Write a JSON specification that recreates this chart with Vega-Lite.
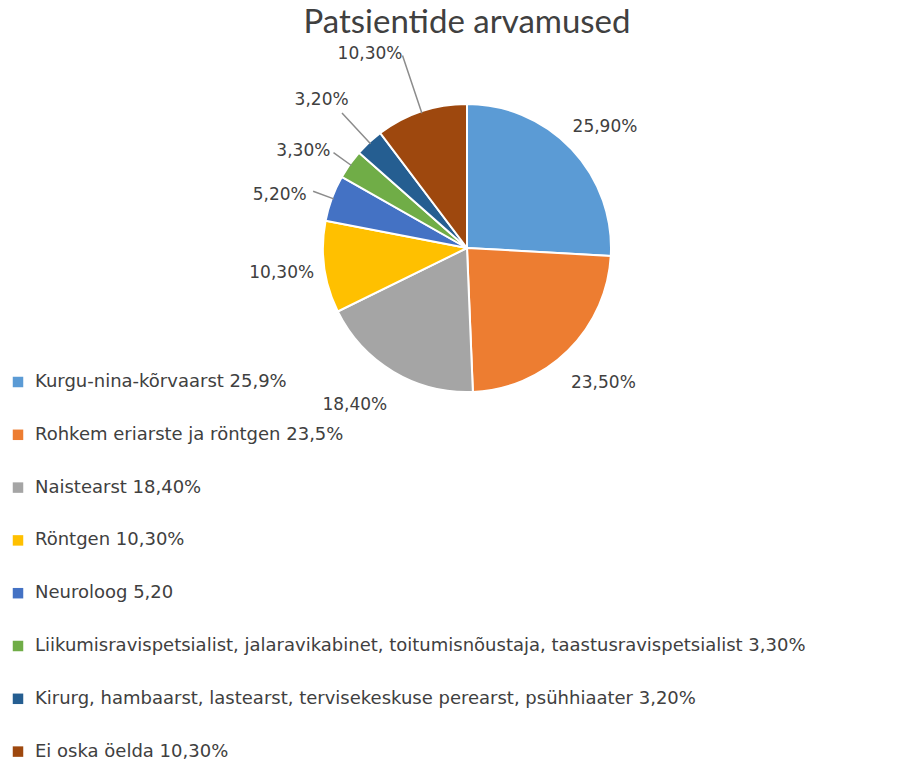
{
  "$schema": "https://vega.github.io/schema/vega-lite/v6.json",
  "width": 904,
  "height": 496,
  "autosize": {"type": "none"},
  "padding": {"left": 15, "top": 0, "right": 0, "bottom": 268},
  "background": "white",
  "title": {"text": "Patsientide arvamused", "font": "Lato", "fontSize": 33, "fontWeight": "normal", "color": "#404040", "anchor": "middle", "frame": "group", "offset": -66, "baseline": "alphabetic"},
  "data": {"values": [
    {"nr": 1, "kategooria": "Kurgu-nina-kõrvaarst 25,9%", "osakaal": 25.9, "silt": "25,90%"},
    {"nr": 2, "kategooria": "Rohkem eriarste ja röntgen 23,5%", "osakaal": 23.5, "silt": "23,50%"},
    {"nr": 3, "kategooria": "Naistearst 18,40%", "osakaal": 18.4, "silt": "18,40%"},
    {"nr": 4, "kategooria": "Röntgen 10,30%", "osakaal": 10.3, "silt": "10,30%"},
    {"nr": 5, "kategooria": "Neuroloog 5,20", "osakaal": 5.2, "silt": "5,20%"},
    {"nr": 6, "kategooria": "Liikumisravispetsialist, jalaravikabinet, toitumisnõustaja, taastusravispetsialist 3,30%", "osakaal": 3.3, "silt": "3,30%"},
    {"nr": 7, "kategooria": "Kirurg, hambaarst, lastearst, tervisekeskuse perearst, psühhiaater 3,20%", "osakaal": 3.2, "silt": "3,20%"},
    {"nr": 8, "kategooria": "Ei oska öelda 10,30%", "osakaal": 10.3, "silt": "10,30%"}
  ]},
  "encoding": {
    "theta": {"field": "osakaal", "type": "quantitative", "stack": true},
    "order": {"field": "nr", "type": "quantitative"}
  },
  "layer": [
    {
      "mark": {"type": "arc", "outerRadius": 144, "stroke": "white", "strokeWidth": 2},
      "encoding": {
        "color": {
          "field": "kategooria", "type": "nominal",
          "scale": {
            "domain": ["Kurgu-nina-kõrvaarst 25,9%", "Rohkem eriarste ja röntgen 23,5%", "Naistearst 18,40%", "Röntgen 10,30%", "Neuroloog 5,20", "Liikumisravispetsialist, jalaravikabinet, toitumisnõustaja, taastusravispetsialist 3,30%", "Kirurg, hambaarst, lastearst, tervisekeskuse perearst, psühhiaater 3,20%", "Ei oska öelda 10,30%"],
            "range": ["#5B9BD5", "#ED7D31", "#A5A5A5", "#FFC000", "#4472C4", "#70AD47", "#255E91", "#9E480E"]
          },
          "legend": {
            "orient": "none", "legendX": -6, "legendY": 373, "title": null,
            "labelFont": "DejaVu Sans", "labelFontSize": 18, "labelColor": "#404040",
            "symbolType": "square", "symbolSize": 110, "symbolStrokeWidth": 0,
            "rowPadding": 34.8, "labelLimit": 1000, "labelOffset": 8
          }
        }
      }
    },
    {
      "mark": {"type": "arc", "radius": 164, "radius2": 142, "padAngle": 1.5, "fillOpacity": 0, "stroke": "#8C8C8C", "strokeWidth": 1.5},
      "encoding": {
        "detail": {"field": "kategooria"},
        "strokeOpacity": {"condition": {"test": "datum.nr == 5 || datum.nr == 6", "value": 1}, "value": 0}
      }
    },
    {
      "mark": {"type": "arc", "radius": 184, "radius2": 142, "padAngle": 1.5, "fillOpacity": 0, "stroke": "#8C8C8C", "strokeWidth": 1.5},
      "encoding": {
        "detail": {"field": "kategooria"},
        "strokeOpacity": {"condition": {"test": "datum.nr == 7", "value": 1}, "value": 0}
      }
    },
    {
      "mark": {"type": "arc", "radius": 203, "radius2": 142, "padAngle": 1.5, "fillOpacity": 0, "stroke": "#8C8C8C", "strokeWidth": 1.5},
      "encoding": {
        "detail": {"field": "kategooria"},
        "strokeOpacity": {"condition": {"test": "datum.nr == 8", "value": 1}, "value": 0}
      }
    },
    {
      "mark": {"type": "text", "radius": 190, "font": "DejaVu Sans", "fontSize": 17, "color": "#404040", "dy": 10},
      "encoding": {
        "detail": {"field": "kategooria"},
        "text": {"field": "silt"},
        "opacity": {"condition": {"test": "datum.nr == 1", "value": 1}, "value": 0}
      }
    },
    {
      "mark": {"type": "text", "radius": 190, "font": "DejaVu Sans", "fontSize": 17, "color": "#404040", "dx": 3},
      "encoding": {
        "detail": {"field": "kategooria"},
        "text": {"field": "silt"},
        "opacity": {"condition": {"test": "datum.nr == 2 || datum.nr == 4", "value": 1}, "value": 0}
      }
    },
    {
      "mark": {"type": "text", "radius": 190, "font": "DejaVu Sans", "fontSize": 17, "color": "#404040", "dx": -15, "dy": -6},
      "encoding": {
        "detail": {"field": "kategooria"},
        "text": {"field": "silt"},
        "opacity": {"condition": {"test": "datum.nr == 3", "value": 1}, "value": 0}
      }
    },
    {
      "mark": {"type": "text", "radius": 190, "font": "DejaVu Sans", "fontSize": 17, "color": "#404040", "dx": -9, "dy": 13},
      "encoding": {
        "detail": {"field": "kategooria"},
        "text": {"field": "silt"},
        "opacity": {"condition": {"test": "datum.nr == 5 || datum.nr == 6", "value": 1}, "value": 0}
      }
    },
    {
      "mark": {"type": "text", "radius": 214, "font": "DejaVu Sans", "fontSize": 17, "color": "#404040", "dy": 9},
      "encoding": {
        "detail": {"field": "kategooria"},
        "text": {"field": "silt"},
        "opacity": {"condition": {"test": "datum.nr == 7", "value": 1}, "value": 0}
      }
    },
    {
      "mark": {"type": "text", "radius": 214, "font": "DejaVu Sans", "fontSize": 17, "color": "#404040", "dx": -29, "dy": 9},
      "encoding": {
        "detail": {"field": "kategooria"},
        "text": {"field": "silt"},
        "opacity": {"condition": {"test": "datum.nr == 8", "value": 1}, "value": 0}
      }
    }
  ]
}
